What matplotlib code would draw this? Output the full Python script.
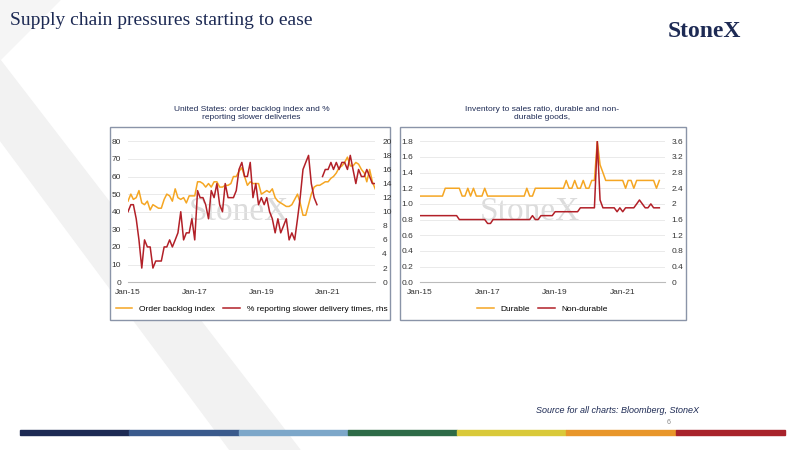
import numpy as np
import pandas as pd
import matplotlib
matplotlib.use('Agg')
import matplotlib.pyplot as plt
from matplotlib.patches import Rectangle, Polygon

plt.rcParams['font.family'] = ['Liberation Sans', 'DejaVu Sans']

nan = np.nan
backlog = [46,50,47,48,52,45,44,46,41,44,43,42,
           42,47,50,49,46,53,48,47,48,45,49,49,
           49,57,57,56,54,56,54,57,57,54,54,55,
           55,56,60,60,63,65,60,55,57,56,56,56,
           50,51,52,51,53,48,46,45,44,43,43,44,
           47,50,45,38,38,44,50,54,55,55,56,57,
           57,59,60,62,65,66,68,71,66,66,68,67,
           64,62,57,64,57,53]
delivery = [10,11,11,9,6,2,6,5,5,2,3,3,
            3,5,5,6,5,6,7,10,6,7,7,9,
            6,13,12,12,11,9,13,12,14,11,10,14,
            12,12,12,13,16,17,15,15,17,12,14,11,
            12,11,12,10,9,7,9,7,8,9,6,7,
            6,9,12,16,17,18,14,12,11,nan,15,16,
            16,17,16,17,16,17,17,16,18,16,14,16,
            15,15,16,15,14,14]
durable = [1.1]*9 + [1.2]*3 + \
    [1.2,1.2,1.2,1.1,1.1,1.2,1.1,1.2,1.1,1.1,1.1,1.2] + \
    [1.1,1.1,1.1,1.1,1.1,1.1,1.1,1.1,1.1,1.1,1.1,1.1] + \
    [1.1,1.1,1.2,1.1,1.1,1.2,1.2,1.2,1.2,1.2,1.2,1.2] + \
    [1.2,1.2,1.2,1.2,1.3,1.2,1.2,1.3,1.2,1.2,1.3,1.2] + \
    [1.2,1.3,1.3,1.8,1.5,1.4,1.3,1.3,1.3,1.3,1.3,1.3] + \
    [1.3,1.2,1.3,1.3,1.2,1.3,1.3,1.3,1.3,1.3,1.3,1.3] + \
    [1.2,1.3]
nondur = [1.7]*12 + \
    [1.7,1.7,1.6,1.6,1.6,1.6,1.6,1.6,1.6,1.6,1.6,1.6] + \
    [1.5,1.5,1.6,1.6,1.6,1.6,1.6,1.6,1.6,1.6,1.6,1.6] + \
    [1.6,1.6,1.6,1.6,1.7,1.6,1.6,1.7,1.7,1.7,1.7,1.7] + \
    [1.8,1.8,1.8,1.8,1.8,1.8,1.8,1.8,1.8,1.9,1.9,1.9] + \
    [1.9,1.9,1.9,3.6,2.1,1.9,1.9,1.9,1.9,1.9,1.8,1.9] + \
    [1.8,1.9,1.9,1.9,1.9,2.0,2.1,2.0,1.9,1.9,2.0,1.9] + \
    [1.9,1.9]

d1 = pd.date_range('2015-01-01', periods=len(backlog), freq='MS')
d2 = pd.date_range('2015-01-01', periods=len(durable), freq='MS')

ORANGE = '#f5a623'
RED = '#b22028'
GRID = '#e6e6e6'

fig = plt.figure(figsize=(8, 4.5), dpi=100)
fig.patch.set_facecolor('white')

# faint background shapes
bg = fig.add_axes([0, 0, 1, 1], zorder=-5)
bg.set_xlim(0, 800); bg.set_ylim(450, 0); bg.axis('off')
bg.add_patch(Polygon([(0, 60), (0, 140), (230, 450), (300, 450)], color='#f2f2f2'))
bg.add_patch(Polygon([(0, 0), (60, 0), (0, 60)], color='#f5f5f5'))
bg.add_patch(Rectangle((110, 127), 280, 193, fc='white', ec='#8a94a8', lw=1))
bg.add_patch(Rectangle((400, 127), 286, 193, fc='white', ec='#8a94a8', lw=1))
cols = ['#1d2a54', '#3a5a8c', '#7da7c9', '#2e6b47', '#d9c93a', '#e8962a', '#a8232b']
w = (785 - 20) / len(cols)
for i, c in enumerate(cols):
    bg.add_patch(Rectangle((20 + i * w, 430), w, 5, color=c))

fig.text(0.012, 0.955, 'Supply chain pressures starting to ease', fontsize=14,
         family='Liberation Serif', color='#1d2a54', va='center')
fig.text(0.835, 0.93, 'StoneX', fontsize=17, family='Liberation Serif',
         weight='bold', color='#1d2a54', va='center')
fig.text(0.67, 0.082, 'Source for all charts: Bloomberg, StoneX', fontsize=6.5,
         style='italic', color='#1d2a54')
fig.text(0.833, 0.058, '6', fontsize=5, color='#888888')


def style(ax, axr):
    for a in (ax, axr):
        for s in a.spines.values():
            s.set_visible(False)
        a.tick_params(length=0, labelsize=6, colors='#333333', pad=5)
    ax.spines['bottom'].set_visible(True)
    ax.spines['bottom'].set_color('#bbbbbb')
    ax.grid(axis='y', color=GRID, lw=0.6)
    ax.set_axisbelow(True)
    ax.set_xlim(pd.Timestamp('2015-01-01'), pd.Timestamp('2022-06-01'))
    ax.set_xticks(pd.to_datetime(['2015-01-01', '2017-01-01', '2019-01-01', '2021-01-01']))
    ax.set_xticklabels(['Jan-15', 'Jan-17', 'Jan-19', 'Jan-21'])
    ax.text(0.45, 0.5, 'StoneX', transform=ax.transAxes, fontsize=24,
            family='Liberation Serif', color='#dcdcdc', ha='center', va='center', zorder=0)


# left chart
ax1 = fig.add_axes([0.16, 0.373, 0.309, 0.313])
ax1r = ax1.twinx()
l1, = ax1.plot(d1, backlog, color=ORANGE, lw=1.1)
l2, = ax1r.plot(d1, delivery, color=RED, lw=1.1)
ax1.set_ylim(0, 80); ax1.set_yticks(range(0, 81, 10))
ax1r.set_ylim(0, 20); ax1r.set_yticks(range(0, 21, 2))
style(ax1, ax1r)
ax1.set_title('United States: order backlog index and %\nreporting slower deliveries',
              fontsize=6, color='#1d2a54', pad=16)
ax1.legend([l1, l2], ['Order backlog index', '% reporting slower delivery times, rhs'],
           loc='upper center', bbox_to_anchor=(0.5, -0.11), ncol=2, frameon=False,
           fontsize=6, handlelength=2, columnspacing=1)

# right chart
ax2 = fig.add_axes([0.525, 0.373, 0.306, 0.313])
ax2r = ax2.twinx()
l3, = ax2.plot(d2, durable, color=ORANGE, lw=1.1)
l4, = ax2r.plot(d2, nondur, color=RED, lw=1.1)
ax2.set_ylim(0, 1.8); ax2.set_yticks(np.arange(0, 1.81, 0.2))
ax2.set_yticklabels(['%.1f' % v for v in np.arange(0, 1.81, 0.2)])
ax2r.set_ylim(0, 3.6); ax2r.set_yticks(np.arange(0, 3.61, 0.4))
ax2r.set_yticklabels(['0', '0.4', '0.8', '1.2', '1.6', '2', '2.4', '2.8', '3.2', '3.6'])
style(ax2, ax2r)
ax2.set_xlim(pd.Timestamp('2015-01-01'), pd.Timestamp('2022-04-01'))
ax2.set_title('Inventory to sales ratio, durable and non-\ndurable goods,',
              fontsize=6, color='#1d2a54', pad=16)
ax2.legend([l3, l4], ['Durable', 'Non-durable'],
           loc='upper center', bbox_to_anchor=(0.5, -0.11), ncol=2, frameon=False,
           fontsize=6, handlelength=2, columnspacing=1)

fig.savefig('out.png', dpi=100)
